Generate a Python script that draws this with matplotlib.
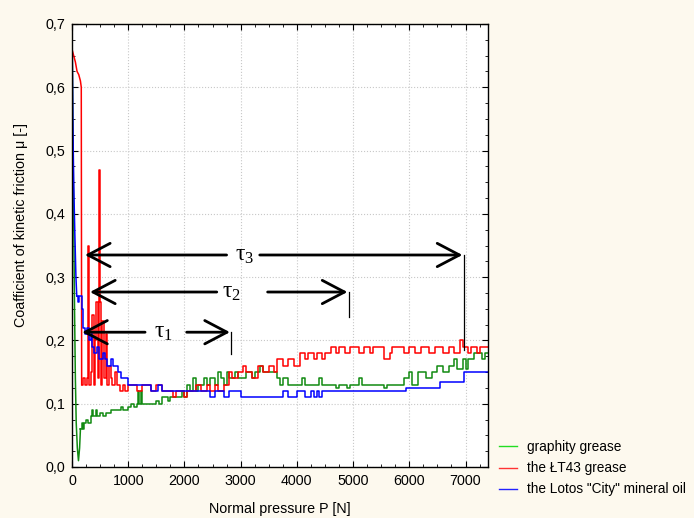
import numpy as np
import matplotlib
matplotlib.use("Agg")
import matplotlib.pyplot as plt
from matplotlib.ticker import MultipleLocator, FuncFormatter
from matplotlib.lines import Line2D

plt.rcParams['font.family'] = ['Liberation Sans', 'DejaVu Sans']
plt.rcParams['mathtext.fontset'] = 'custom'
plt.rcParams['mathtext.rm'] = 'Liberation Serif'
plt.rcParams['mathtext.it'] = 'Liberation Serif'

#============================================================================
# data (step series)
#============================================================================

green_x = [0, 15, 30, 45, 60, 75, 95, 115, 135, 150, 170, 190, 210, 250, 290, 330, 360, 380, 420, 450,
           500, 560, 600, 700, 800, 870, 900, 1000, 1050, 1100, 1150, 1170, 1185, 1230, 1245, 1500, 1550,
           1600, 1700, 1750, 1950, 2000, 2050, 2100, 2150, 2200, 2250, 2350, 2400, 2450, 2550, 2600, 2650,
           2700, 2750, 2800, 2900, 2950, 3100, 3200, 3250, 3350, 3400, 3550, 3650, 3700, 3750, 3850, 4100,
           4150, 4400, 4450, 4700, 4750, 4900, 4950, 5100, 5150, 5550, 5600, 5900, 6000, 6050, 6150, 6300,
           6400, 6500, 6600, 6700, 6800, 6850, 6950, 7000, 7050, 7150, 7300, 7350, 7400]
green_y = [0.70, 0.55, 0.40, 0.25, 0.14, 0.07, 0.03, 0.01, 0.03, 0.06, 0.07, 0.06, 0.07, 0.075, 0.07, 0.08,
           0.09, 0.08, 0.09, 0.08, 0.085, 0.08, 0.085, 0.09, 0.09, 0.095, 0.09, 0.095, 0.10, 0.095, 0.10,
           0.12, 0.10, 0.12, 0.10, 0.105, 0.10, 0.11, 0.105, 0.11, 0.12, 0.11, 0.13, 0.12, 0.14, 0.12, 0.13,
           0.14, 0.13, 0.14, 0.13, 0.15, 0.14, 0.13, 0.15, 0.14, 0.15, 0.14, 0.15, 0.14, 0.15, 0.16, 0.15,
           0.15, 0.14, 0.13, 0.14, 0.13, 0.14, 0.13, 0.14, 0.13, 0.125, 0.13, 0.125, 0.13, 0.14, 0.13, 0.125,
           0.13, 0.14, 0.15, 0.13, 0.15, 0.14, 0.15, 0.16, 0.15, 0.16, 0.17, 0.155, 0.17, 0.155, 0.17, 0.18,
           0.17, 0.18, 0.18]

red_x = [0, 30, 60, 90, 120, 150, 165, 172, 200, 240, 270, 285, 300, 330, 360, 390, 410, 430, 460, 480,
         495, 510, 540, 570, 600, 630, 660, 690, 720, 760, 800, 850, 900, 950, 1000, 1150, 1250, 1400, 1500,
         1600, 1800, 1850, 2000, 2050, 2200, 2300, 2400, 2450, 2550, 2600, 2700, 2800, 2850, 2950, 3050,
         3100, 3200, 3300, 3400, 3500, 3600, 3650, 3750, 3850, 3950, 4050, 4150, 4200, 4300, 4350, 4450,
         4500, 4600, 4700, 4750, 4850, 4950, 5100, 5200, 5300, 5350, 5550, 5650, 5700, 5900, 6000, 6100,
         6200, 6350, 6450, 6600, 6700, 6800, 6900, 6950, 7050, 7100, 7200, 7250, 7400]
red_y = [0.66, 0.65, 0.64, 0.625, 0.62, 0.61, 0.60, 0.13, 0.14, 0.13, 0.14, 0.35, 0.13, 0.15, 0.24, 0.13,
         0.20, 0.26, 0.14, 0.47, 0.26, 0.13, 0.23, 0.14, 0.21, 0.13, 0.16, 0.14, 0.13, 0.15, 0.13, 0.12,
         0.13, 0.12, 0.13, 0.12, 0.13, 0.12, 0.13, 0.12, 0.11, 0.12, 0.11, 0.12, 0.13, 0.12, 0.13, 0.12,
         0.13, 0.12, 0.13, 0.15, 0.14, 0.15, 0.16, 0.15, 0.14, 0.16, 0.15, 0.16, 0.15, 0.17, 0.16, 0.17,
         0.16, 0.18, 0.17, 0.18, 0.17, 0.18, 0.17, 0.18, 0.19, 0.18, 0.19, 0.18, 0.19, 0.18, 0.19, 0.18,
         0.19, 0.17, 0.18, 0.19, 0.18, 0.19, 0.18, 0.19, 0.18, 0.19, 0.18, 0.19, 0.18, 0.20, 0.19, 0.18,
         0.19, 0.18, 0.19, 0.19]

blue_x = [0, 15, 30, 50, 70, 85, 100, 130, 170, 200, 240, 270, 300, 330, 360, 400, 450, 480, 550, 580,
          620, 700, 730, 820, 880, 1000, 1400, 1530, 1600, 2450, 2550, 2700, 2800, 3000, 3750, 3850, 4000,
          4150, 4250, 4300, 4350, 4400, 4450, 5950, 6550, 6980, 7400]
blue_y = [0.70, 0.55, 0.45, 0.37, 0.30, 0.27, 0.26, 0.27, 0.25, 0.22, 0.21, 0.22, 0.20, 0.21, 0.19, 0.18,
          0.19, 0.17, 0.18, 0.17, 0.16, 0.17, 0.16, 0.15, 0.14, 0.13, 0.12, 0.13, 0.12, 0.11, 0.12, 0.11,
          0.12, 0.11, 0.12, 0.11, 0.12, 0.11, 0.12, 0.11, 0.12, 0.11, 0.12, 0.125, 0.135, 0.15, 0.15]

# how many leading points of each series are a smooth run-in (not steps)
green_head = 10
red_head = 8
blue_head = 6

labels = ['graphity grease', 'the ŁT43 grease', 'the Lotos "City" mineral oil']

# tau intervals: (label, start, end, y level, foot of the marker line, label x, gap left, gap right)
taus = [(r'$\tau_3$', 230, 6945, 0.335, 0.185, 3070, 2750, 3340),
        (r'$\tau_2$', 320, 4900, 0.2765, 0.237, 2840, 2575, 3480),
        (r'$\tau_1$', 180, 2810, 0.213, 0.178, 1620, 1300, 2040)]

#============================================================================
# plot
#============================================================================

fig = plt.figure(figsize=(6.94, 5.18), dpi=100, facecolor='#fdf9ee')
ax = fig.add_axes([72/694, 51/518, 416/694, 443/518])
ax.set_facecolor('white')

def plot_series(ax, x, y, n, color):
    ax.plot(x[:n], y[:n], color=color, lw=1.1)
    ax.plot(x[n-1:], y[n-1:], drawstyle='steps-post', color=color, lw=1.1)

plot_series(ax, green_x, green_y, green_head, '#118a11')
plot_series(ax, red_x, red_y, red_head, '#ff0000')
plot_series(ax, blue_x, blue_y, blue_head, '#0000ff')

ax.set_xlim(0, 7400)
ax.set_ylim(0, 0.7)
ax.xaxis.set_major_locator(MultipleLocator(1000))
ax.xaxis.set_minor_locator(MultipleLocator(250))
ax.yaxis.set_major_locator(MultipleLocator(0.1))
ax.yaxis.set_minor_locator(MultipleLocator(0.025))
ax.yaxis.set_major_formatter(FuncFormatter(lambda v, p: ('%.1f' % v).replace('.', ',')))
ax.tick_params(which='both', direction='in', top=True, right=True, labelsize=10.3, pad=5)
ax.tick_params(which='major', length=4)
ax.tick_params(which='minor', length=2.5)
ax.grid(True, which='major', color='#c8c8c8', ls=':', lw=0.8)
for s in ax.spines.values():
    s.set_linewidth(1.0)

ax.set_xlabel('Normal pressure P [N]', fontsize=10.3, labelpad=10)
ax.set_ylabel('Coafficient of kinetic friction μ [-]', fontsize=10.3)
ax.yaxis.set_label_coords(-0.106, 0.546)

head = dict(arrowstyle='->, head_length=0.8, head_width=0.42', color='black', lw=2.0,
            mutation_scale=20, shrinkA=0, shrinkB=0)
for lab, x0, x1, y, yfoot, xt, gl, gr in taus:
    ax.annotate('', xy=(x0, y), xytext=(gl, y), arrowprops=head)
    ax.annotate('', xy=(x1, y), xytext=(gr, y), arrowprops=head)
    ax.plot([x1 + 25, x1 + 25], [y, yfoot], color='black', lw=0.9)
    ax.text(xt, y, lab, fontsize=17, ha='center', va='center')

handles = [Line2D([], [], color='#22dd22', lw=1.0),
           Line2D([], [], color='#ff3333', lw=1.0),
           Line2D([], [], color='#2222ff', lw=1.0)]
fig.legend(handles, labels, loc='upper left', bbox_to_anchor=(487/694, 1 - 428/518), frameon=False,
           fontsize=9.8, handlelength=1.3, handletextpad=0.75, labelspacing=0.52)

fig.savefig('out.png', dpi=100, facecolor=fig.get_facecolor())
